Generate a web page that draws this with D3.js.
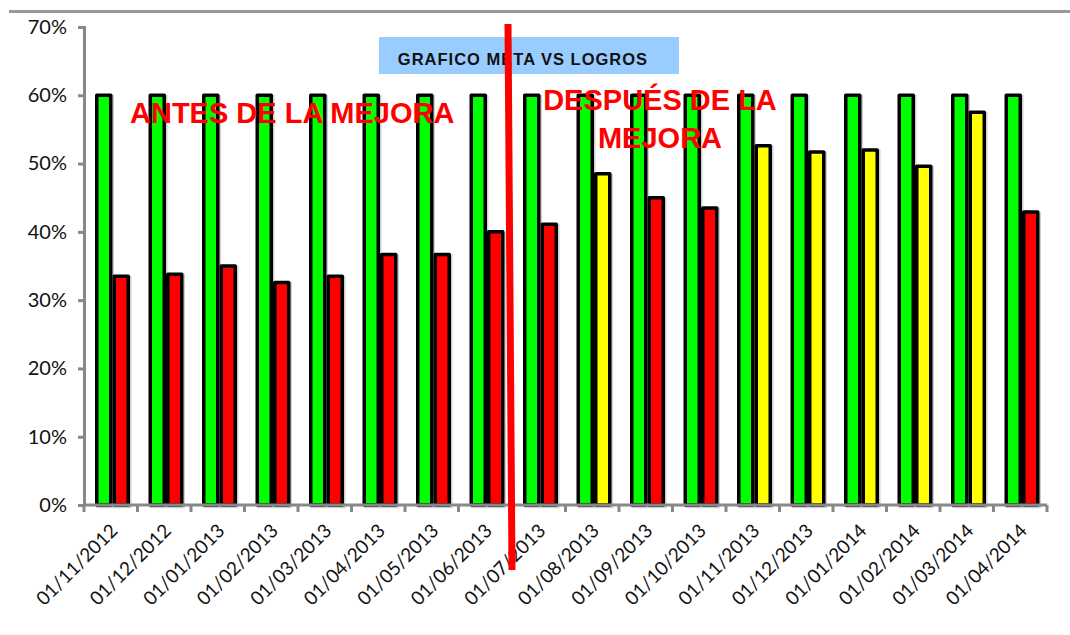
<!DOCTYPE html>
<html>
<head>
<meta charset="utf-8">
<script src="https://cdn.jsdelivr.net/npm/d3@7"></script>
<style>
  html, body { margin: 0; padding: 0; background: #fff; }
  svg { display: block; }
</style>
</head>
<body>
<svg id="chart" width="1070" height="635"></svg>
<script>
// Monthly periods
const periodos = [
  "01/11/2012", "01/12/2012", "01/01/2013", "01/02/2013", "01/03/2013",
  "01/04/2013", "01/05/2013", "01/06/2013", "01/07/2013", "01/08/2013",
  "01/09/2013", "01/10/2013", "01/11/2013", "01/12/2013", "01/01/2014",
  "01/02/2014", "01/03/2014", "01/04/2014"
];
// Target (meta) per period
const meta = [0.60, 0.60, 0.60, 0.60, 0.60, 0.60, 0.60, 0.60, 0.60,
              0.60, 0.60, 0.60, 0.60, 0.60, 0.60, 0.60, 0.60, 0.60];
// Achieved (logros) per period
const logros = [0.335, 0.338, 0.350, 0.326, 0.335, 0.367, 0.367, 0.400, 0.411,
                0.485, 0.450, 0.435, 0.526, 0.517, 0.520, 0.496, 0.575, 0.429];
const yTicks = [0, 0.1, 0.2, 0.3, 0.4, 0.5, 0.6, 0.7];
const titulo = "GRAFICO META VS LOGROS";

const svg = d3.select("#chart");
const plotL = 84, plotR = 1047, plotT = 27, plotB = 505;

const x = d3.scaleBand().domain(periodos).range([plotL, plotR]).padding(0);
const x1 = d3.scaleBand().domain(["meta", "logro"]).range([11, 46]).padding(0);
const y = d3.scaleLinear().domain([0, 0.7]).range([plotB, plotT]);

const GREEN = "#00ff00", RED = "#ff0000", YELLOW = "#ffff00";
const logroColor = v => v >= 0.47 ? YELLOW : RED;

// top rule
svg.append("line")
  .attr("x1", 9).attr("x2", 1070).attr("y1", 11.5).attr("y2", 11.5)
  .attr("stroke", "#999").attr("stroke-width", 3);

// bars
const rows = periodos.map((p, i) => ({ p, meta: meta[i], logro: logros[i] }));
const g = svg.append("g");
const sw = 3.5;
function drawBar(sel, key, color) {
  const bx = d => x(d.p) + x1(key) + sw / 2;
  const bw = x1.bandwidth() - sw;
  sel.append("rect")
    .attr("x", d => bx(d) + 1.5).attr("y", d => y(d[key]) + 1.5)
    .attr("width", bw).attr("height", d => plotB - y(d[key]))
    .attr("fill", "none").attr("stroke", "#cfcfcf").attr("stroke-width", sw);
  sel.append("rect")
    .attr("x", bx).attr("y", d => y(d[key]))
    .attr("width", bw).attr("height", d => plotB - y(d[key]))
    .attr("fill", color).attr("stroke", "#000").attr("stroke-width", sw)
    .attr("stroke-linejoin", "round");
}
const grp = g.selectAll("g.p").data(rows).enter().append("g").attr("class", "p");
drawBar(grp, "meta", () => GREEN);
drawBar(grp, "logro", d => logroColor(d.logro));

// y axis
const yAxis = d3.axisLeft(y).tickValues(yTicks).tickFormat(d3.format(".0%")).tickSize(6).tickPadding(11);
const ya = svg.append("g").attr("transform", `translate(${plotL},0)`).call(yAxis);
ya.select(".domain").attr("stroke", "#888").attr("stroke-width", 3);
ya.selectAll(".tick line").attr("stroke", "#888").attr("stroke-width", 3);
ya.selectAll(".tick text").attr("font-family", "Lato, sans-serif").attr("font-size", 20).attr("fill", "#111");

// x axis line and boundary ticks
svg.append("line").attr("x1", plotL).attr("x2", plotR).attr("y1", plotB).attr("y2", plotB)
  .attr("stroke", "#888").attr("stroke-width", 3);
const bounds = periodos.map(p => x(p)).concat([plotR]);
svg.append("g").selectAll("line").data(bounds).enter().append("line")
  .attr("x1", d => d).attr("x2", d => d).attr("y1", plotB).attr("y2", plotB + 7)
  .attr("stroke", "#888").attr("stroke-width", 3);

// x labels
const xAxis = d3.axisBottom(x).tickSize(0).tickPadding(0);
const xa = svg.append("g").attr("transform", `translate(0,${plotB})`).call(xAxis);
xa.select(".domain").remove();
xa.selectAll(".tick text")
  .attr("font-family", "Lato, sans-serif").attr("font-size", 19).attr("fill", "#111")
  .attr("text-anchor", "end").attr("dy", null).attr("y", 0)
  .attr("transform", "translate(8,27) rotate(-45)");

// title box
svg.append("rect").attr("x", 379).attr("y", 37).attr("width", 300).attr("height", 37).attr("fill", "#99ccff");
svg.append("text").attr("x", 523).attr("y", 65).attr("text-anchor", "middle")
  .attr("font-family", "Liberation Sans, Arial, sans-serif").attr("font-weight", "bold")
  .attr("font-size", 16.5).attr("letter-spacing", 1).attr("fill", "#111").text(titulo);

// annotations
const annFont = "Liberation Sans, Arial, sans-serif";
svg.append("text").attr("x", 130).attr("y", 123)
  .attr("font-family", annFont).attr("font-weight", "bold").attr("font-size", 29)
  .attr("fill", RED).text("ANTES DE LA MEJORA");
const t2 = svg.append("text").attr("text-anchor", "middle")
  .attr("font-family", annFont).attr("font-weight", "bold").attr("font-size", 29).attr("fill", RED);
t2.append("tspan").attr("x", 660).attr("y", 110).text("DESPUÉS DE LA");
t2.append("tspan").attr("x", 660).attr("y", 148).text("MEJORA");

// divider
svg.append("line").attr("x1", 508).attr("y1", 24).attr("x2", 512).attr("y2", 570)
  .attr("stroke", RED).attr("stroke-width", 7);
</script>
</body>
</html>
